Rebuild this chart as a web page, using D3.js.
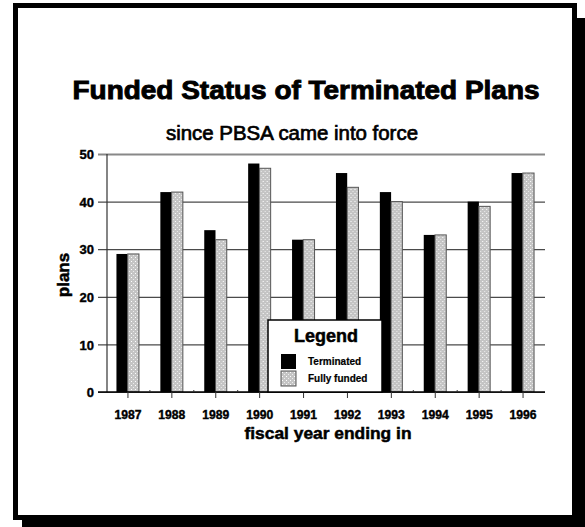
<!DOCTYPE html>
<html>
<head>
<meta charset="utf-8">
<script src="https://cdn.jsdelivr.net/npm/d3@7"></script>
<style>
  html, body { margin: 0; padding: 0; background: #fff; }
  svg { display: block; font-family: "Liberation Sans", Arial, sans-serif; }
</style>
</head>
<body>
<div id="chart"></div>
<script>
const years = ['1987', '1988', '1989', '1990', '1991', '1992', '1993', '1994', '1995', '1996'];
const terminated = [29, 42, 34, 48, 32, 46, 42, 33, 40, 46];
const fullyFunded = [29, 42, 32, 47, 32, 43, 40, 33, 39, 46];
const yTicks = [0, 10, 20, 30, 40, 50];
const seriesNames = ['Terminated', 'Fully funded'];

const width = 585;
const height = 527;
const plot = { left: 107, right: 545, top: 154, bottom: 392 };

const COLORS = {
  terminated: '#000000',
  funded: 'url(#dots)',
  fundedStroke: '#555555',
  grid: '#4a4a4a'
};

const rows = years.map((year, i) => ({ year, terminated: terminated[i], funded: fullyFunded[i] }));
const subgroups = ['terminated', 'funded'];

const svg = d3.select('#chart')
  .append('svg')
  .attr('width', width)
  .attr('height', height);

// dotted fill used by the "fully funded" bars
const pattern = svg.append('defs')
  .append('pattern')
  .attr('id', 'dots')
  .attr('width', 4)
  .attr('height', 4)
  .attr('patternUnits', 'userSpaceOnUse');
pattern.append('rect').attr('width', 4).attr('height', 4).attr('fill', '#c4c4c4');
pattern.append('rect').attr('x', 1).attr('y', 1).attr('width', 1).attr('height', 1).attr('fill', '#ffffff');
pattern.append('rect').attr('x', 3).attr('y', 3).attr('width', 1).attr('height', 1).attr('fill', '#ececec');

// frame with drop shadow
svg.append('rect').attr('x', 577).attr('y', 18).attr('width', 8).attr('height', 509).attr('fill', '#000');
svg.append('rect').attr('x', 22).attr('y', 520).attr('width', 563).attr('height', 7).attr('fill', '#000');
svg.append('rect')
  .attr('x', 15.5).attr('y', 5.5)
  .attr('width', 559).attr('height', 512)
  .attr('fill', '#fff')
  .attr('stroke', '#000')
  .attr('stroke-width', 5);

const xScale = d3.scaleBand()
  .domain(years)
  .range([106, 545])
  .padding(0);

const xSubScale = d3.scaleBand()
  .domain(subgroups)
  .range([xScale.bandwidth() / 2 - 11.5, xScale.bandwidth() / 2 + 11]);

const yScale = d3.scaleLinear()
  .domain([0, 50])
  .range([plot.bottom, plot.top]);

// gridlines + y axis
const yAxis = svg.append('g')
  .attr('transform', `translate(${plot.left},0)`)
  .call(d3.axisLeft(yScale)
    .tickValues(yTicks)
    .tickSize(9)
    .tickPadding(4)
    .tickFormat(d3.format('d')));
yAxis.select('.domain').remove();
yAxis.selectAll('.tick line')
  .attr('x2', plot.right - plot.left)
  .attr('x1', -9)
  .attr('stroke-width', d => d === 50 ? 2 : 1.2)
  .attr('stroke', d => d === 50 ? '#888' : COLORS.grid);
yAxis.selectAll('.tick text')
  .attr('font-size', 13)
  .attr('font-weight', 'bold')
  .attr('fill', '#000')
  .attr('stroke', '#000')
  .attr('stroke-width', 0.4)
  .attr('x', -13)
  .attr('dy', '0.36em');

svg.append('line')
  .attr('x1', plot.left).attr('x2', plot.left)
  .attr('y1', plot.top).attr('y2', plot.bottom)
  .attr('stroke', '#333').attr('stroke-width', 1.2);

// bars
svg.append('g')
  .selectAll('g')
  .data(rows)
  .enter()
  .append('g')
  .attr('transform', d => `translate(${xScale(d.year)},0)`)
  .selectAll('rect')
  .data(d => subgroups.map(key => ({ key, value: d[key] })))
  .enter()
  .append('rect')
  .attr('x', d => xSubScale(d.key))
  .attr('width', xSubScale.bandwidth())
  .attr('y', d => yScale(d.value))
  .attr('height', d => yScale(0) - yScale(d.value))
  .attr('fill', d => COLORS[d.key])
  .attr('stroke', d => d.key === 'funded' ? COLORS.fundedStroke : 'none')
  .attr('stroke-width', 1);

// x axis
const xAxis = svg.append('g')
  .attr('transform', `translate(0,${plot.bottom})`)
  .call(d3.axisBottom(xScale).tickSize(6).tickPadding(12).tickSizeOuter(0));
xAxis.select('.domain')
  .attr('d', `M${plot.left - 9},0H${plot.right}`)
  .attr('stroke', '#000')
  .attr('stroke-width', 1.5);
xAxis.selectAll('.tick line').attr('stroke', '#333');
xAxis.selectAll('.tick text')
  .attr('font-size', 12)
  .attr('font-weight', 'bold')
  .attr('fill', '#000')
  .attr('stroke', '#000')
  .attr('stroke-width', 0.4)
  .attr('textLength', 27)
  .attr('lengthAdjust', 'spacingAndGlyphs');

// small marks at category boundaries
svg.append('g')
  .selectAll('line')
  .data(years.slice(1))
  .enter()
  .append('line')
  .attr('x1', d => xScale(d)).attr('x2', d => xScale(d))
  .attr('y1', plot.bottom - 2).attr('y2', plot.bottom)
  .attr('stroke', '#333');

// titles
svg.append('text')
  .text('Funded Status of Terminated Plans')
  .attr('x', 306).attr('y', 99)
  .attr('text-anchor', 'middle')
  .attr('font-size', 25)
  .attr('font-weight', 'bold')
  .attr('stroke', '#000')
  .attr('stroke-width', 0.9)
  .attr('textLength', 467)
  .attr('lengthAdjust', 'spacingAndGlyphs');

svg.append('text')
  .text('since PBSA came into force')
  .attr('x', 292).attr('y', 140)
  .attr('text-anchor', 'middle')
  .attr('font-size', 20)
  .attr('stroke', '#000')
  .attr('stroke-width', 0.7)
  .attr('textLength', 252)
  .attr('lengthAdjust', 'spacingAndGlyphs');

svg.append('text')
  .text('fiscal year ending in')
  .attr('x', 328).attr('y', 439)
  .attr('text-anchor', 'middle')
  .attr('font-size', 17)
  .attr('font-weight', 'bold')
  .attr('stroke', '#000')
  .attr('stroke-width', 0.5)
  .attr('textLength', 167)
  .attr('lengthAdjust', 'spacingAndGlyphs');

svg.append('text')
  .text('plans')
  .attr('transform', 'translate(69,275) rotate(-90)')
  .attr('text-anchor', 'middle')
  .attr('font-size', 17)
  .attr('font-weight', 'bold')
  .attr('stroke', '#000')
  .attr('stroke-width', 0.5);

// legend
const legend = svg.append('g').attr('transform', 'translate(268,320)');
legend.append('rect')
  .attr('width', 114).attr('height', 72)
  .attr('fill', '#fff')
  .attr('stroke', '#000')
  .attr('stroke-width', 1.5);
legend.append('text')
  .text('Legend')
  .attr('x', 58).attr('y', 22)
  .attr('text-anchor', 'middle')
  .attr('font-size', 18)
  .attr('font-weight', 'bold')
  .attr('stroke', '#000')
  .attr('stroke-width', 0.5);

const legendRows = legend.selectAll('.item')
  .data(subgroups)
  .enter()
  .append('g')
  .attr('transform', (d, i) => `translate(13,${34 + i * 17})`);
legendRows.append('rect')
  .attr('width', 15).attr('height', 15)
  .attr('fill', d => COLORS[d])
  .attr('stroke', d => d === 'funded' ? COLORS.fundedStroke : 'none');
legendRows.append('text')
  .text((d, i) => seriesNames[i])
  .attr('x', 27).attr('y', 11)
  .attr('font-size', 10)
  .attr('font-weight', 'bold')
  .attr('stroke', '#000')
  .attr('stroke-width', 0.2);
</script>
</body>
</html>
